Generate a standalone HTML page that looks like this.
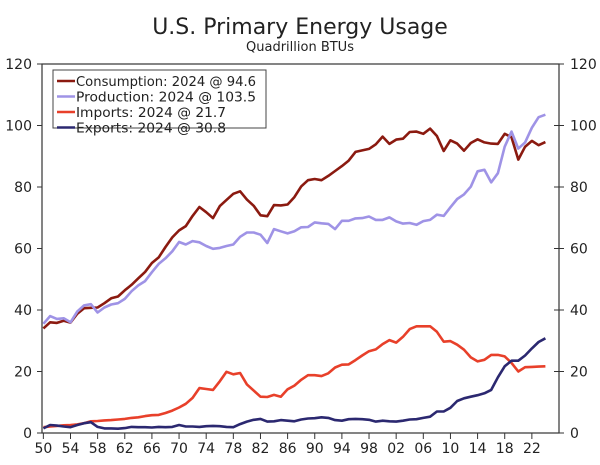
<!DOCTYPE html>
<html><head><meta charset="utf-8"><style>
body{margin:0;background:#fff;}
svg text{font-family:"DejaVu Sans","Liberation Sans",sans-serif;fill:#222;}
</style></head><body>
<svg id="chart" width="600" height="460" xmlns="http://www.w3.org/2000/svg">
<text x="300" y="34" text-anchor="middle" font-size="22">U.S. Primary Energy Usage</text>
<text x="300" y="51" text-anchor="middle" font-size="13">Quadrillion BTUs</text>
<g id="axes"></g>
<g id="lines"></g>
<g id="legend"></g>
</svg>
<script>
const years=[];for(let y=1950;y<=2024;y++)years.push(y);
const consumption=[34,36,35.8,36.5,35.9,38.8,40.6,40.7,40.8,42.2,43.8,44.4,46.4,48.2,50.3,52.4,55.3,57.1,60.5,63.6,65.9,67.3,70.6,73.5,71.8,69.9,73.8,75.8,77.8,78.6,75.9,73.9,70.8,70.5,74.1,74,74.3,76.7,80.2,82.2,82.6,82.2,83.6,85.2,86.8,88.6,91.4,91.9,92.4,93.9,96.4,94,95.4,95.7,97.9,98,97.3,99,96.6,91.7,95.2,94.1,91.8,94.3,95.5,94.5,94.1,94,97.3,96.2,88.9,93.1,95,93.6,94.6];
const production=[35.5,38,37.1,37.3,36,39.5,41.5,41.9,39.2,40.8,41.8,42.2,43.6,46.1,48,49.4,52.3,55,56.8,59.1,62.1,61.3,62.4,62,60.8,59.9,60.2,60.8,61.3,63.8,65.2,65.2,64.5,61.8,66.3,65.6,64.9,65.6,66.9,67,68.5,68.2,68,66.3,69,69,69.8,69.9,70.4,69.3,69.3,70.1,68.8,68.1,68.3,67.7,68.9,69.3,71,70.6,73.4,76.1,77.6,80.1,85.1,85.6,81.5,84.5,93.1,98,92.5,94.5,99.3,102.7,103.5];
const imports=[1.9,2.1,2.3,2.5,2.6,2.8,3.2,3.8,3.9,4.1,4.2,4.4,4.6,4.9,5.1,5.5,5.8,5.9,6.5,7.3,8.3,9.5,11.4,14.6,14.3,14,16.8,19.9,19.1,19.5,15.8,13.8,11.8,11.7,12.4,11.8,14.2,15.4,17.3,18.8,18.8,18.5,19.4,21.3,22.2,22.3,23.7,25.2,26.6,27.2,28.9,30.2,29.4,31.3,33.8,34.7,34.7,34.7,32.9,29.7,29.9,28.7,27.1,24.6,23.3,23.8,25.4,25.4,24.9,22.8,20,21.4,21.5,21.6,21.7];
const exports=[1.5,2.6,2.4,2.1,1.9,2.6,3.2,3.5,2,1.5,1.5,1.4,1.6,2,1.9,1.9,1.8,2,1.9,2,2.6,2.1,2.1,2,2.2,2.3,2.2,2,1.9,2.9,3.7,4.3,4.6,3.7,3.8,4.2,4,3.8,4.4,4.7,4.8,5.1,4.9,4.2,4,4.5,4.6,4.5,4.3,3.7,4,3.8,3.7,4,4.4,4.5,4.9,5.3,7,7,8.2,10.4,11.3,11.8,12.3,12.9,14,18.1,21.7,23.5,23.5,25.2,27.5,29.6,30.8];
const yTicks=[0,20,40,60,80,100,120];
const xTickLabels=["50","54","58","62","66","70","74","78","82","86","90","94","98","02","06","10","14","18","22"];
const seriesNames=["Consumption: 2024 @ 94.6","Production: 2024 @ 103.5","Imports: 2024 @ 21.7","Exports: 2024 @ 30.8"];

const L=42,R=559,T=64,B=433,x0=1949.8,x1=2026;
const X=v=>L+(v-x0)/(x1-x0)*(R-L);
const Y=v=>B-v/120*(B-T);
const NS="http://www.w3.org/2000/svg";
function mk(tag,attrs,parent){const e=document.createElementNS(NS,tag);for(const k in attrs)e.setAttribute(k,attrs[k]);parent.appendChild(e);return e;}
const axes=document.getElementById('axes'),lines=document.getElementById('lines'),leg=document.getElementById('legend');
const frame=mk('rect',{x:L,y:T,width:R-L,height:B-T,fill:'none',stroke:'#333','stroke-width':1.2},axes);


yTicks.forEach(v=>{
  const y=Y(v);
  const t1=mk('line',{x1:L-5,x2:L,y1:y,y2:y,stroke:'#333'},axes);
  
  
  const t2=mk('line',{x1:R-5,x2:R+5,y1:y,y2:y,stroke:'#333'},axes);
  
  
  const a=mk('text',{x:L-10,y:y+5,'text-anchor':'end','font-size':14},axes);a.textContent=v;
  
  
  const b=mk('text',{x:R+11,y:y+5,'text-anchor':'start','font-size':14},axes);b.textContent=v;
  
  
});
xTickLabels.forEach((lab,i)=>{
  const yr=1950+4*i,x=X(yr);
  const t=mk('line',{x1:x,x2:x,y1:B,y2:B+6,stroke:'#333'},axes);
  
  
  const tx=mk('text',{x:x,y:B+20,'text-anchor':'middle','font-size':14},axes);tx.textContent=lab;
  
  
});
const series=[[consumption,'#8b1a10','consumption-line'],[production,'#9f93e6','production-line'],[imports,'#e8402a','imports-line'],[exports,'#2b2870','exports-line']];
series.forEach(([d,c,n])=>{
  const p=mk('polyline',{points:d.map((v,i)=>X(years[i]).toFixed(1)+','+Y(v).toFixed(1)).join(' '),fill:'none',stroke:c,'stroke-width':2.6,'stroke-linejoin':'round'},lines);
  
  
});
const box=mk('rect',{x:53,y:70,width:213,height:58,fill:'#fff',stroke:'#444','stroke-width':1},leg);


seriesNames.forEach((s,i)=>{
  const y=81+i*15.5;
  const l=mk('line',{x1:57,x2:75,y1:y,y2:y,stroke:series[i][1],'stroke-width':2.6},leg);
  
  
  const t=mk('text',{x:76,y:y+5,'font-size':13,textLength:s.length*7.5>186?186:s.length*7.5,lengthAdjust:'spacingAndGlyphs'},leg);t.textContent=s;
  
  
});
</script>
</body></html>
